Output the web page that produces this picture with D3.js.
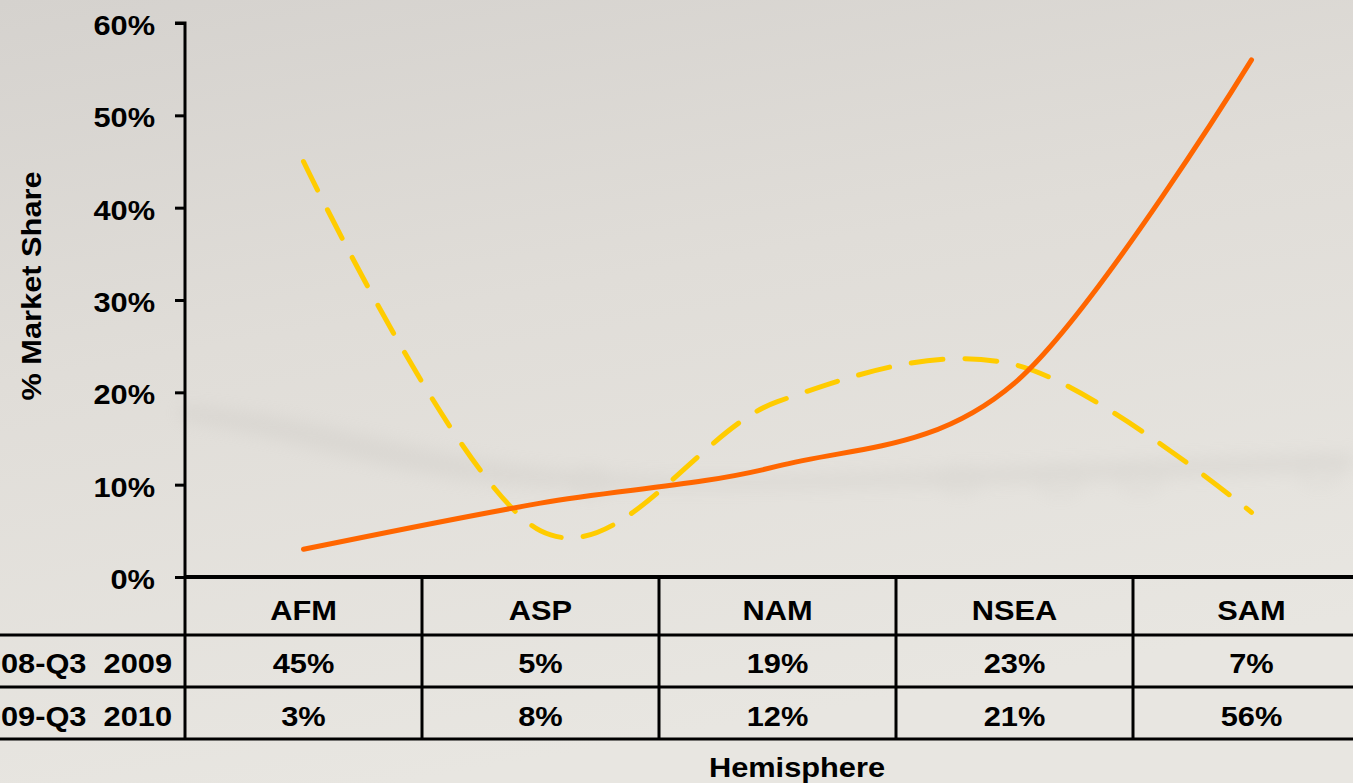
<!DOCTYPE html>
<html>
<head>
<meta charset="utf-8">
<script src="https://cdn.jsdelivr.net/npm/d3@7"></script>
<style>
  html, body { margin: 0; padding: 0; overflow: hidden; }
  svg { display: block; font-family: "Liberation Sans", Arial, sans-serif; font-weight: bold; }
  text { white-space: pre; }
</style>
</head>
<body>
<svg width="1353" height="783"></svg>
<script>
// data
var categories = ["AFM", "ASP", "NAM", "NSEA", "SAM"];
var seriesNames = ["Q3 2008-Q3  2009", "Q3 2009-Q3  2010"];
var share0809 = [45, 5, 19, 23, 7];
var share0910 = [3, 8, 12, 21, 56];
var yTicks = [0, 10, 20, 30, 40, 50, 60];

var svg = d3.select("svg"),
  width = 1353,
  height = 783;

var stretch = 1.08, fs = 28.5;

var defs = svg.append("defs");
var bg = defs.append("linearGradient").attr("id", "bg")
  .attr("x1", 0).attr("y1", 0).attr("x2", 0.3).attr("y2", 1);
bg.append("stop").attr("offset", "0").attr("stop-color", "#d5d2ce");
bg.append("stop").attr("offset", "0.45").attr("stop-color", "#e0ddd8");
bg.append("stop").attr("offset", "1").attr("stop-color", "#e8e6e1");
defs.append("filter").attr("id", "blur")
  .attr("x", "-20%").attr("y", "-50%").attr("width", "140%").attr("height", "200%")
  .append("feGaussianBlur").attr("stdDeviation", 8);

svg.append("rect").attr("width", width).attr("height", height).attr("fill", "url(#bg)");

// faint water streak behind the lines
var streak = svg.append("g").attr("filter", "url(#blur)").attr("opacity", 0.18);
streak.append("path")
  .attr("d", "M180,405 C300,412 380,445 520,465 C700,488 900,470 1100,462 C1250,456 1353,452 1353,452 L1353,470 C1100,482 800,492 560,488 C400,484 330,445 180,420 Z")
  .attr("fill", "#b9b6b1");
[[590, 482], [960, 480], [1060, 482], [1140, 480], [1320, 472]].forEach(function (p) {
  streak.append("ellipse").attr("cx", p[0]).attr("cy", p[1]).attr("rx", 18).attr("ry", 12)
    .attr("fill", "none").attr("stroke", "#a9a6a1").attr("stroke-width", 4);
});

var x = d3.scaleBand().domain(categories).range([185, 185 + 5 * 237]);
var y = d3.scaleLinear().domain([0, 60]).range([577, 23]);

function label(g, tx, ty, str, anchor, size) {
  return g.append("text")
    .attr("transform", "translate(" + tx + "," + ty + ") scale(" + stretch + ",1)")
    .attr("text-anchor", anchor)
    .attr("font-size", size || fs)
    .attr("fill", "#000")
    .text(str);
}

// y axis
var yAxis = svg.append("g")
  .attr("transform", "translate(185,0)")
  .call(d3.axisLeft(y).tickValues(yTicks).tickSize(10).tickFormat(""));
yAxis.select(".domain").attr("stroke", "#000").attr("stroke-width", 3).attr("d", "M-10," + y(60) + "H0V" + y(0));
yAxis.selectAll(".tick line").attr("stroke", "#000").attr("stroke-width", 3);

var tickLabels = svg.append("g");
yTicks.forEach(function (t) {
  label(tickLabels, 155, y(t) + 12, t + "%", "end");
});

// y title
svg.append("text")
  .attr("transform", "translate(41,286) rotate(-90) scale(" + stretch + ",1)")
  .attr("text-anchor", "middle")
  .attr("font-size", fs)
  .text("% Market Share");

// lines
var line = d3.line()
  .x(function (d, i) { return x(categories[i]) + x.bandwidth() / 2; })
  .y(function (d) { return y(d); })
  .curve(d3.curveCatmullRom.alpha(0));

svg.append("path").datum(share0809)
  .attr("d", line)
  .attr("fill", "none")
  .attr("stroke", "#ffcc00")
  .attr("stroke-width", 5)
  .attr("stroke-linecap", "round")
  .attr("stroke-dasharray", "32,22");

svg.append("path").datum(share0910)
  .attr("d", line)
  .attr("fill", "none")
  .attr("stroke", "#ff6600")
  .attr("stroke-width", 5)
  .attr("stroke-linecap", "round");

// data table
var rowTop = [577, 635, 687, 739];
var table = svg.append("g").attr("stroke", "#000");
table.append("line").attr("x1", 185).attr("x2", width).attr("y1", rowTop[0]).attr("y2", rowTop[0]).attr("stroke-width", 4);
[1, 2, 3].forEach(function (r) {
  table.append("line").attr("x1", 0).attr("x2", width).attr("y1", rowTop[r]).attr("y2", rowTop[r]).attr("stroke-width", 3);
});
categories.forEach(function (c) {
  table.append("line").attr("x1", x(c)).attr("x2", x(c)).attr("y1", rowTop[0]).attr("y2", rowTop[3]).attr("stroke-width", 3);
});

var cells = svg.append("g");
categories.forEach(function (c, i) {
  var cx = x(c) + x.bandwidth() / 2;
  label(cells, cx, 620, c, "middle");
  label(cells, cx, 673, share0809[i] + "%", "middle");
  label(cells, cx, 726, share0910[i] + "%", "middle");
});
// row labels run off the left edge, as in the reference
label(cells, 172, 673, seriesNames[0], "end");
label(cells, 172, 726, seriesNames[1], "end");

// x title
label(svg, 797, 777, "Hemisphere", "middle");
</script>
</body>
</html>
